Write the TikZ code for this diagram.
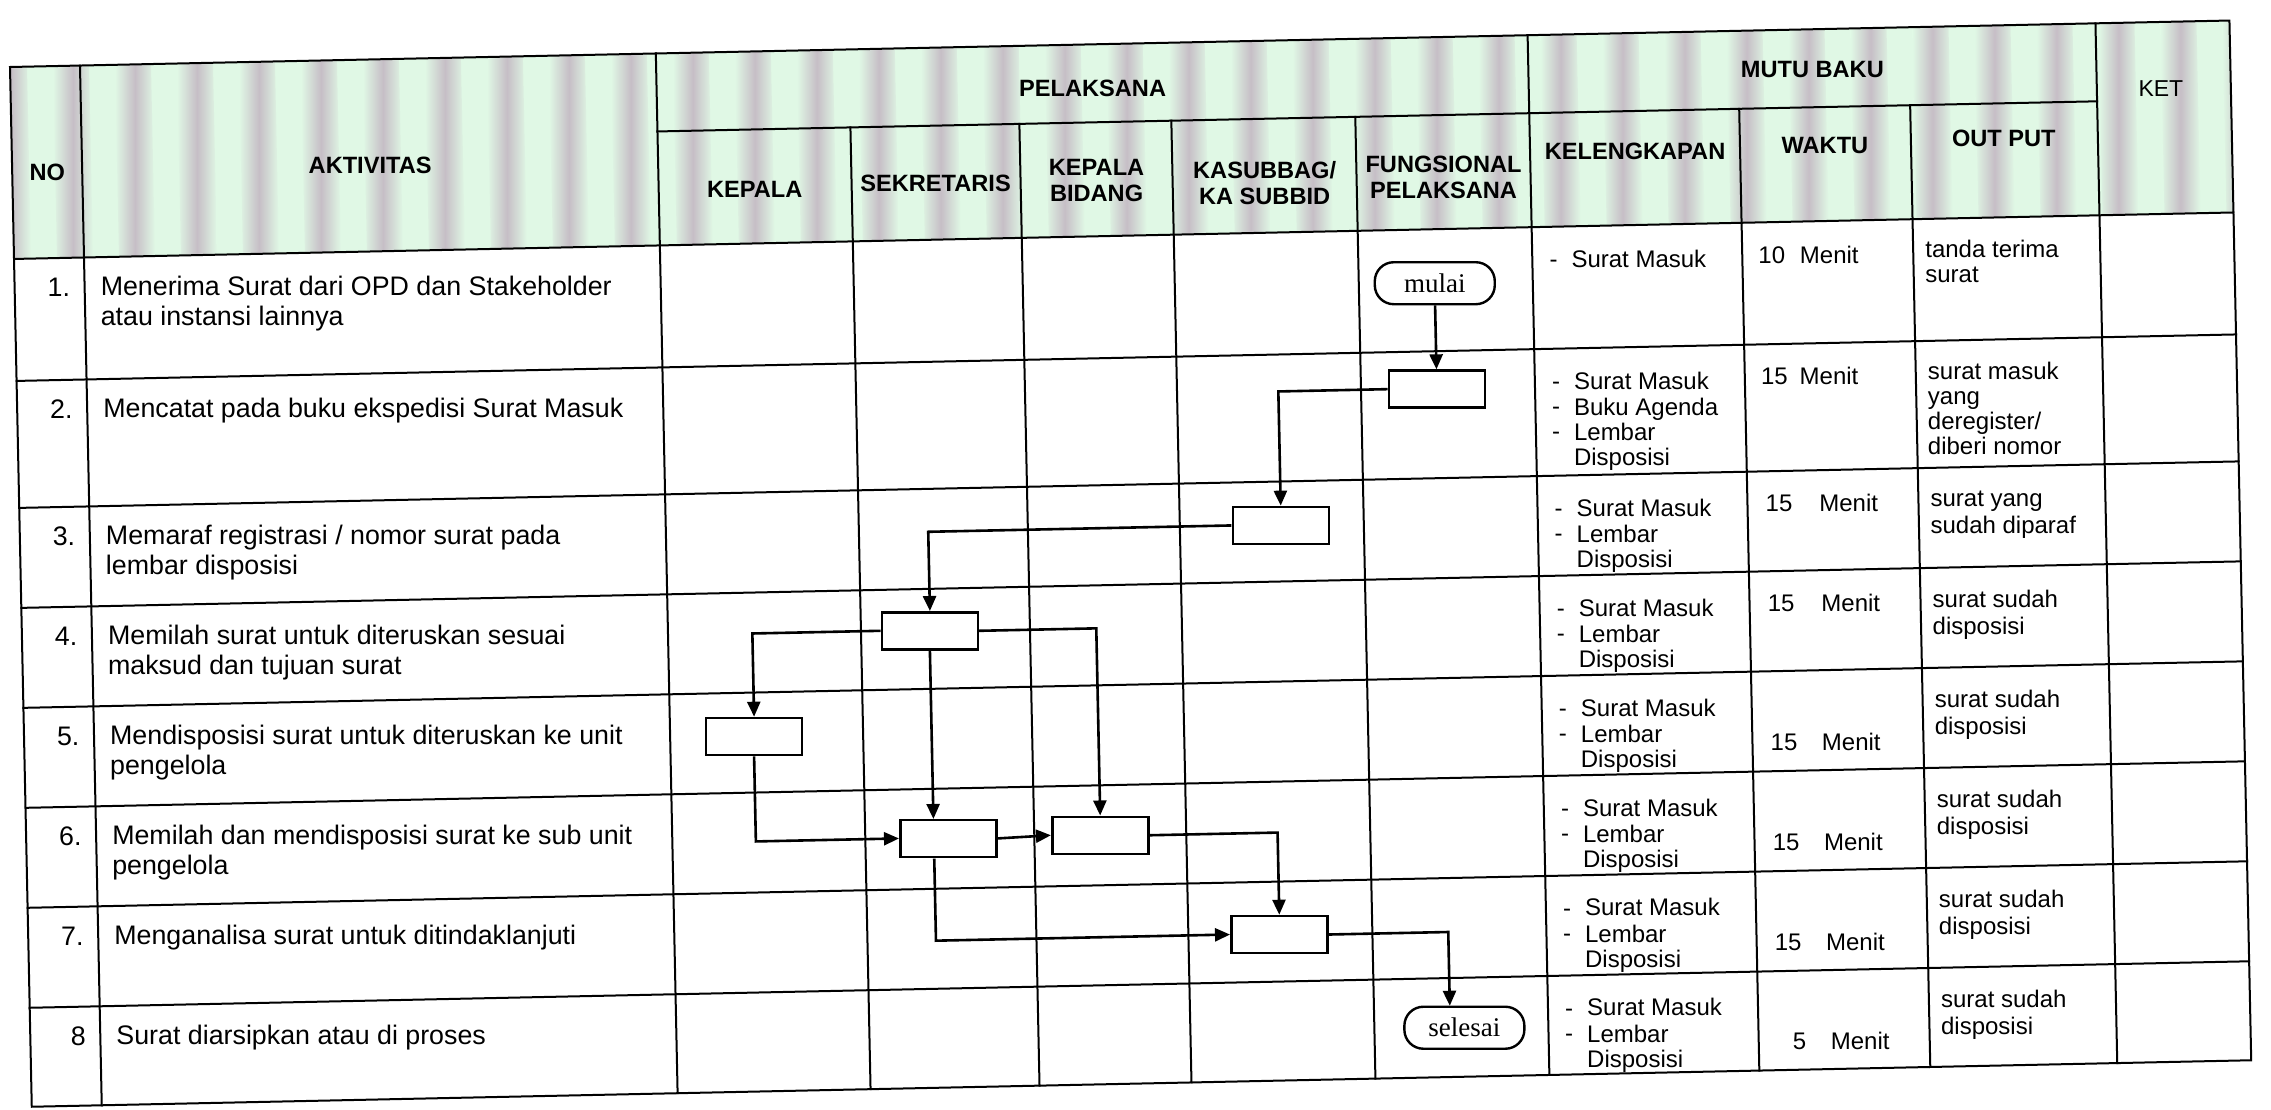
\documentclass[tikz,border=0pt]{standalone}
\usepackage{fontspec}
\setmainfont{Liberation Sans}
\newfontfamily\termface{Liberation Serif}
\usetikzlibrary{arrows.meta}

\definecolor{hdrgreen}{RGB}{224,248,229}
\definecolor{hdrstripe}{RGB}{198,190,198}

\newcommand\fHead{\fontsize{11.8}{13}\selectfont\bfseries}
\newcommand\fAct{\fontsize{13.4}{14.6}\selectfont}
\newcommand\fCell{\fontsize{12}{12.4}\selectfont}
\newcommand\fTerm{\fontsize{13.5}{15}\selectfont\termface}

\begin{document}
\begin{tikzpicture}[x=0.5pt, y=-0.5pt,
  gridline/.style={line width=1pt, line cap=rect},
  hdr/.style={font=\fHead, align=center, inner sep=0pt},
  act/.style={font=\fAct, align=left, inner sep=0pt, anchor=north west},
  num/.style={font=\fAct, inner sep=0pt, anchor=north east},
  cell/.style={font=\fCell, align=left, inner sep=0pt, anchor=north west},
  proc/.style={draw, line width=1.3pt, fill=white, minimum width=48pt, minimum height=18.5pt, inner sep=0pt},
  term/.style={draw, line width=1.2pt, fill=white, rounded corners=9.5pt, minimum width=60pt, minimum height=21pt, inner sep=0pt, font=\fTerm},
  flow/.style={line width=1.3pt, -{Triangle[length=7.5pt,width=6.5pt]}},
]
\useasboundingbox (0,0) rectangle (2271,1109);
\fill[white] (0,0) rectangle (2271,1109);

\begin{scope}[shift={(10,67)}, rotate=1.2]
  % header band with soft vertical stripes
  \fill[hdrgreen] (0,0) rectangle (2220,192);
  \begin{scope}
    \clip (0,0) rectangle (2220,192);
    \foreach \k in {-1,...,35}
      \shade[left color=hdrgreen, right color=hdrgreen, middle color=hdrstripe]
        ({43+62*\k},0) rectangle ({79+62*\k},192);
  \end{scope}

  % table grid
  \draw[gridline] (0,0) rectangle (2220,1040);
  \foreach \v in {192,314,441,541,641,741,841,941}
    \draw[gridline] (0,\v) -- (2220,\v);
  \draw[gridline] (646,78) -- (2086,78);
  \foreach \u in {70,646,1518,2086}
    \draw[gridline] (\u,0) -- (\u,1040);
  \foreach \u in {839,1008,1160,1344,1728,1899}
    \draw[gridline] (\u,78) -- (\u,1040);

  % header labels
  \node[hdr] (hNo)   at (35,106)   {NO};
  \node[hdr] (hAkt)  at (358,106)  {AKTIVITAS};
  \node[hdr] (hPel)  at (1082,44)  {PELAKSANA};
  \node[hdr] (hKep)  at (742,138)  {KEPALA};
  \node[hdr] (hSek)  at (923,136)  {SEKRETARIS};
  \node[hdr] (hKbd)  at (1084,136) {KEPALA\\BIDANG};
  \node[hdr] (hKas)  at (1252,142) {KASUBBAG/\\KA SUBBID};
  \node[hdr] (hFun)  at (1431,140) {FUNGSIONAL\\PELAKSANA};
  \node[hdr] (hMutu) at (1802,40)  {MUTU BAKU};
  \node[hdr] (hKel)  at (1623,118) {KELENGKAPAN};
  \node[hdr] (hWak)  at (1813,116) {WAKTU};
  \node[hdr] (hOut)  at (1992,113) {OUT PUT};
  \node[font=\fontsize{11.5}{13}\selectfont, inner sep=0pt] (hKet) at (2150,67) {KET};

  % numbers and activities
  \node[num] (n1) at (56,210) {\strut 1.};
  \node[num] (n2) at (56,332) {\strut 2.};
  \node[num] (n3) at (56,459) {\strut 3.};
  \node[num] (n4) at (56,559) {\strut 4.};
  \node[num] (n5) at (56,659) {\strut 5.};
  \node[num] (n6) at (56,759) {\strut 6.};
  \node[num] (n7) at (56,859) {\strut 7.};
  \node[num] (n8) at (56,959) {\strut 8};
  \node[act] (a1) at (86,210) {\strut Menerima Surat dari OPD dan Stakeholder\\atau instansi lainnya};
  \node[act] (a2) at (86,332) {\strut Mencatat pada buku ekspedisi Surat Masuk};
  \node[act] (a3) at (86,459) {\strut Memaraf registrasi / nomor surat pada\\lembar disposisi};
  \node[act] (a4) at (86,559) {\strut Memilah surat untuk diteruskan sesuai\\maksud dan tujuan surat};
  \node[act] (a5) at (86,659) {\strut Mendisposisi surat untuk diteruskan ke unit\\pengelola};
  \node[act] (a6) at (86,759) {\strut Memilah dan mendisposisi surat ke sub unit\\pengelola};
  \node[act] (a7) at (86,859) {\strut Menganalisa surat untuk ditindaklanjuti};
  \node[act] (a8) at (86,959) {\strut Surat diarsipkan atau di proses};

  % kelengkapan
  \node[cell] (k1d) at (1535,215) {\strut -};
  \node[cell] (k1)  at (1557,215) {\strut Surat Masuk};
  \node[cell] (k2d) at (1535,337) {\strut -\\-\\-};
  \node[cell] (k2)  at (1557,337) {\strut Surat Masuk\\Buku Agenda\\Lembar\\Disposisi};
  \foreach \t/\r in {464/3,564/4,664/5,764/6,864/7,964/8} {
    \node[cell] (k\r d) at (1535,\t) {\strut -\\-};
    \node[cell] (k\r)   at (1557,\t) {\strut Surat Masuk\\Lembar\\Disposisi};
  }

  % waktu
  \node[cell] (w1) at (1744,215) {\strut 10\hspace{7.4pt}Menit};
  \node[cell] (w2) at (1744,336) {\strut 15\hspace{6pt}Menit};
  \node[cell] (w3) at (1746,463) {\strut 15\hspace{13.5pt}Menit};
  \node[cell] (w4) at (1746,563) {\strut 15\hspace{13.5pt}Menit};
  \node[cell] (w5) at (1746,702) {\strut 15\hspace{12.3pt}Menit};
  \node[cell] (w6) at (1746,802) {\strut 15\hspace{12.3pt}Menit};
  \node[cell] (w7) at (1746,902) {\strut 15\hspace{12.3pt}Menit};
  \node[cell] (w8) at (1762,1002) {\strut 5\hspace{12.3pt}Menit};

  % output
  \node[cell] (o1) at (1911,213) {\strut tanda terima\\surat};
  \node[cell] (o2) at (1911,335) {\strut surat masuk\\yang\\deregister/\\diberi nomor};
  \node[cell] (o3) at (1911,462) {\strut surat yang\\sudah diparaf};
  \foreach \t/\r in {563/4,663/5,763/6,863/7,963/8}
    \node[cell] (o\r) at (1911,\t) {\strut surat sudah\\disposisi};

  % flow
  \node[term] (mulai)   at (1420,246) {mulai};
  \node[proc] (b2)      at (1420,352) {};
  \node[proc] (b3)      at (1261,485) {};
  \node[proc] (b4)      at (908,583)  {};
  \node[proc] (b5)      at (730,685)  {};
  \node[proc] (b6a)     at (922,791)  {};
  \node[proc] (b6b)     at (1074,791) {};
  \node[proc] (b7)      at (1251,894) {};
  \node[term] (selesai) at (1434,991) {selesai};

  \draw[flow] (mulai) -- (b2);
  \draw[flow] (b2.west) -| (b3.north);
  \draw[flow] (b3.west) -| (b4.north);
  \draw[flow] (b4.west) -| (b5.north);
  \draw[flow] (b4.east) -| (b6b.north);
  \draw[flow] (b4.south) -- (b4.south |- b6a.north);
  \draw[flow] (b5.south) |- (b6a.west);
  \draw[flow] (b6a.east) -- (b6b.west);
  \draw[flow] (b6b.east) -| (b7.north);
  \draw[flow] (b4.south |- b6a.south) |- (b7.west);
  \draw[flow] (b7.east) -| (mulai |- selesai.north);
\end{scope}
\end{tikzpicture}
\end{document}
